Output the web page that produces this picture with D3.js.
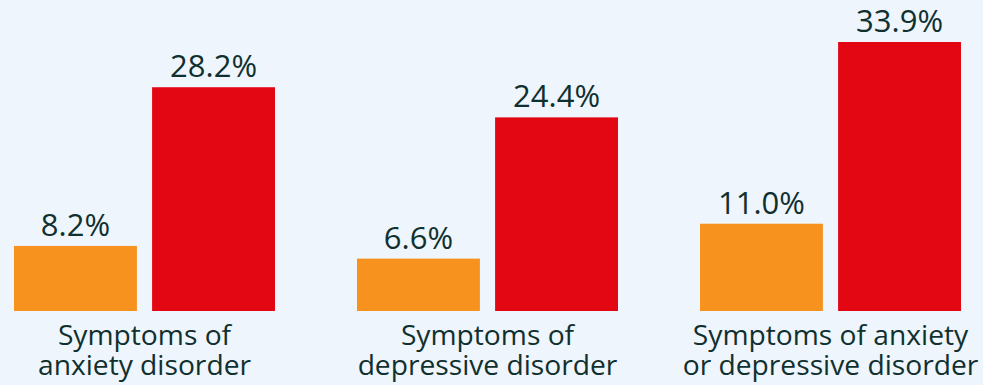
<!DOCTYPE html>
<html><head><meta charset="utf-8">
<script src="https://cdn.jsdelivr.net/npm/d3@7"></script>
<style>html,body{margin:0;padding:0;background:#eef5fc;}</style>
</head><body>
<svg id="chart" width="983" height="385"></svg>
<script>
const categories = [["Symptoms of","anxiety disorder"],["Symptoms of","depressive disorder"],["Symptoms of anxiety","or depressive disorder"]];
const seriesNames = ["Series A","Series B"];
const seriesA = [8.2, 6.6, 11.0];
const seriesB = [28.2, 24.4, 33.9];
const colors = ["#f7921e", "#e30613"];

const svg = d3.select("#chart");
const baseline = 311;
const x0 = d3.scaleBand().domain(d3.range(categories.length)).range([14, 14 + 343*3]).paddingInner(0).paddingOuter(0);
const x1 = d3.scaleBand().domain(seriesNames).range([0, 261]).paddingInner(0.11);
const y = d3.scaleLinear().domain([0, 33.9]).range([baseline, 42]);

const data = categories.map((c,i)=>({i, vals:[seriesA[i], seriesB[i]]}));
const g = svg.selectAll("g.grp").data(data).join("g").attr("class","grp")
  .attr("transform", d=>`translate(${x0(d.i)},0)`);
g.selectAll("rect").data(d=>d.vals.map((v,k)=>({v,k}))).join("rect")
  .attr("x", d=>x1(seriesNames[d.k])).attr("width", x1.bandwidth())
  .attr("y", d=>y(d.v)).attr("height", d=>baseline - y(d.v))
  .attr("fill", d=>colors[d.k]);
g.selectAll("text.val").data(d=>d.vals.map((v,k)=>({v,k}))).join("text").attr("class","val")
  .attr("x", d=>x1(seriesNames[d.k]) + x1.bandwidth()/2)
  .attr("y", d=>y(d.v) - 10)
  .attr("text-anchor","middle")
  .attr("font-family","'Open Sans', sans-serif").attr("font-size",31)
  .attr("fill","#10302f")
  .text(d=>d.v.toFixed(1)+"%");
g.each(function(d){
  const t = d3.select(this).append("text")
    .attr("x", 130.5).attr("text-anchor","middle")
    .attr("font-family","'Open Sans', sans-serif").attr("font-size",28.2)
    .attr("fill","#10302f");
  categories[d.i].forEach((line,j)=>{
    t.append("tspan").attr("x",130.5).attr("y", 345 + j*30).text(line);
  });
});
</script>
</body></html>
